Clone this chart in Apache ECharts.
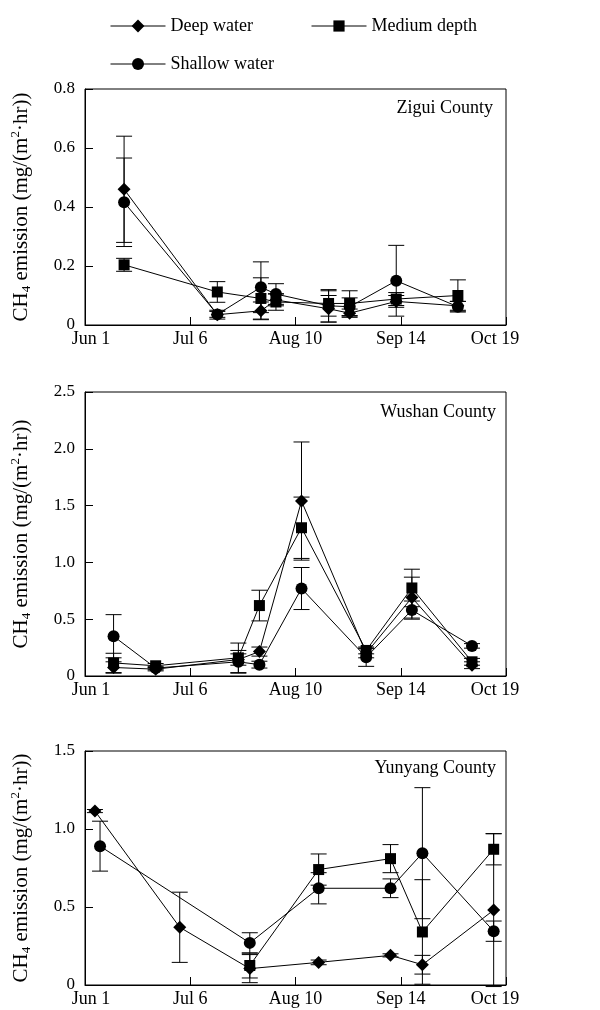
<!DOCTYPE html>
<html><head><meta charset="utf-8">
<script src="https://cdn.jsdelivr.net/npm/echarts@6/dist/echarts.min.js"></script>
<style>html,body{margin:0;padding:0;background:#fff}#c{width:600px;height:1010px}</style>
</head><body><div id="c"></div>
<script>
// ---- data ----
const tickDays = [0, 35, 70, 105, 140];           // days after Jun 1
const tickLabels = ['Jun 1', 'Jul 6', 'Aug 10', 'Sep 14', 'Oct 19'];
const seriesNames = ['Deep water', 'Medium depth', 'Shallow water'];
const panelNames = ['Zigui County', 'Wushan County', 'Yunyang County'];
const panelMax = [0.8, 2.5, 1.5];
const panelInterval = [0.2, 0.5, 0.5];

// Zigui County
const ziguiDays = [13, 44, 58.5, 63.5, 81, 88, 103.5, 124];
const ziguiDeep = [0.46, 0.035, 0.048, 0.085, 0.055, 0.04, 0.08, 0.065];
const ziguiDeepSd = [0.18, 0.015, 0.03, 0.02, 0.045, 0.014, 0.02, 0.015];
const ziguiMedium = [0.204, 0.112, 0.09, 0.078, 0.073, 0.073, 0.088, 0.1];
const ziguiMediumSd = [0.022, 0.035, 0.07, 0.028, 0.043, 0.043, 0.022, 0.053];
const ziguiShallow = [0.416, 0.036, 0.128, 0.105, 0.065, 0.062, 0.15, 0.062];
const ziguiShallowSd = [0.15, 0.01, 0.086, 0.035, 0.055, 0.03, 0.12, 0.018];

// Wushan County
const wushanDays = [9.5, 23.5, 51, 58, 72, 93.5, 108.7, 128.7];
const wushanDeep = [0.075, 0.06, 0.145, 0.215, 1.54, 0.2, 0.69, 0.095];
const wushanDeepSd = [0.05, 0.015, 0.05, 0.04, 0.52, 0.04, 0.18, 0.03];
const wushanMedium = [0.115, 0.09, 0.16, 0.62, 1.305, 0.225, 0.775, 0.125];
const wushanMediumSd = [0.085, 0.02, 0.13, 0.135, 0.27, 0.03, 0.165, 0.03];
const wushanShallow = [0.35, 0.07, 0.125, 0.1, 0.77, 0.165, 0.58, 0.265];
const wushanShallowSd = [0.19, 0.015, 0.1, 0.03, 0.185, 0.08, 0.08, 0.02];

// Yunyang County
const yunyangDeepDays = [3.3, 31.5, 54.8, 77.7, 101.6, 112.2, 135.9];
const yunyangDeep = [1.115, 0.37, 0.105, 0.145, 0.19, 0.13, 0.48];
const yunyangDeepSd = [0.01, 0.225, 0.09, 0.015, 0.01, 0.06, 0.49];
const yunyangMediumDays = [54.8, 77.7, 101.6, 112.2, 135.9];
const yunyangMedium = [0.125, 0.74, 0.81, 0.34, 0.87];
const yunyangMediumSd = [0.08, 0.1, 0.09, 0.335, 0.1];
const yunyangShallowDays = [5, 54.8, 77.7, 101.6, 112.2, 135.9];
const yunyangShallow = [0.89, 0.27, 0.62, 0.62, 0.845, 0.345];
const yunyangShallowSd = [0.16, 0.065, 0.1, 0.06, 0.42, 0.065];

// ---- build ----
const FONT = '"Liberation Serif", "Times New Roman", serif';
const panels = [
  [[ziguiDays, ziguiDeep, ziguiDeepSd], [ziguiDays, ziguiMedium, ziguiMediumSd], [ziguiDays, ziguiShallow, ziguiShallowSd]],
  [[wushanDays, wushanDeep, wushanDeepSd], [wushanDays, wushanMedium, wushanMediumSd], [wushanDays, wushanShallow, wushanShallowSd]],
  [[yunyangDeepDays, yunyangDeep, yunyangDeepSd], [yunyangMediumDays, yunyangMedium, yunyangMediumSd], [yunyangShallowDays, yunyangShallow, yunyangShallowSd]]
];
const symbols = ['diamond', 'rect', 'circle'];
const symbolSizes = [13, 11, 12];
const grids = [
  {left: 85, top: 89, width: 421, height: 236},
  {left: 85, top: 392, width: 421, height: 284},
  {left: 85, top: 751, width: 421, height: 234}
];

function renderErr(params, api) {
  const x = api.value(0), y = api.value(1), sd = api.value(2);
  const t = api.coord([x, y + sd]);
  const b = api.coord([x, y - sd]);
  const hw = 8;
  const style = {stroke: '#000', lineWidth: 1, fill: null};
  return {type: 'group', children: [
    {type: 'line', shape: {x1: t[0], y1: t[1], x2: b[0], y2: b[1]}, style},
    {type: 'line', shape: {x1: t[0] - hw, y1: t[1], x2: t[0] + hw, y2: t[1]}, style},
    {type: 'line', shape: {x1: b[0] - hw, y1: b[1], x2: b[0] + hw, y2: b[1]}, style}
  ]};
}

const xAxes = [], yAxes = [], series = [], titles = [];
const titleRight = [107, 104, 104];
const titleTop = [99, 403, 759];
grids.forEach((g, i) => {
  xAxes.push({
    type: 'value', gridIndex: i, min: 0, max: 140, interval: 35,
    axisLine: {show: true, lineStyle: {color: '#000', width: 1}},
    axisTick: {show: true, inside: true, length: 8, lineStyle: {color: '#000'}},
    splitLine: {show: false},
    axisLabel: {
      color: '#000', fontSize: 18, fontFamily: FONT, margin: 5,
      formatter: v => {
        const k = tickDays.indexOf(v);
        if (k < 0) return '';
        if (k === 0) return '{a|' + tickLabels[k] + '}';
        if (k === tickDays.length - 1) return '{b|' + tickLabels[k] + '}';
        return tickLabels[k];
      },
      rich: {
        a: {fontSize: 18, fontFamily: FONT, color: '#000', padding: [0, 0, 0, 12]},
        b: {fontSize: 18, fontFamily: FONT, color: '#000', padding: [0, 22, 0, 0]}
      }
    }
  });
  yAxes.push({
    type: 'value', gridIndex: i, min: 0, max: panelMax[i], interval: panelInterval[i],
    axisLine: {show: true, lineStyle: {color: '#000', width: 1}},
    axisTick: {show: true, inside: true, length: 8, lineStyle: {color: '#000'}},
    splitLine: {show: false},
    axisLabel: {color: '#000', fontSize: 17, fontFamily: FONT, margin: 10,
      formatter: v => v === 0 ? '0' : v.toFixed(1)},
    name: 'CH{sub|4} emission (mg/(m{sup|2}·hr))',
    nameLocation: 'middle', nameGap: 52, nameRotate: 90,
    nameTextStyle: {
      color: '#000', fontSize: 21, fontFamily: FONT, lineHeight: 24,
      rich: {
        sub: {fontSize: 13, lineHeight: 13, fontFamily: FONT, color: '#000', verticalAlign: 'bottom'},
        sup: {fontSize: 13, lineHeight: 13, fontFamily: FONT, color: '#000', verticalAlign: 'top'}
      }
    }
  });
  titles.push({
    text: panelNames[i], right: titleRight[i], top: titleTop[i], padding: 0,
    textStyle: {color: '#000', fontSize: 18, fontWeight: 'normal', fontFamily: FONT}
  });
  panels[i].forEach((s, j) => {
    const [days, vals, sds] = s;
    series.push({
      type: 'custom', name: seriesNames[j] + ' err', xAxisIndex: i, yAxisIndex: i,
      renderItem: renderErr, clip: false, z: 1, silent: true,
      encode: {x: 0, y: 1},
      data: days.map((d, k) => [d, vals[k], sds[k]])
    });
  });
  panels[i].forEach((s, j) => {
    const [days, vals] = s;
    series.push({
      type: 'line', name: seriesNames[j], xAxisIndex: i, yAxisIndex: i,
      symbol: symbols[j], symbolSize: symbolSizes[j], showSymbol: true, z: 3,
      itemStyle: {color: '#000', borderWidth: 0},
      lineStyle: {color: '#000', width: 1},
      data: days.map((d, k) => [d, vals[k]])
    });
  });
});

const legendCommon = {
  itemWidth: 55, itemGap: 10, selectedMode: false, padding: 0,
  textStyle: {color: '#000', fontSize: 18, fontFamily: FONT},
  lineStyle: {color: '#000', width: 1}
};
const legends = [
  Object.assign({}, legendCommon, {data: ['Deep water'], left: 110, top: 17, itemHeight: 16}),
  Object.assign({}, legendCommon, {data: ['Medium depth'], left: 311, top: 17, itemHeight: 14}),
  Object.assign({}, legendCommon, {data: ['Shallow water'], left: 110, top: 55, itemHeight: 15})
];

const chart = echarts.init(document.getElementById('c'), null, {renderer: 'canvas'});
chart.setOption({
  animation: false,
  backgroundColor: '#fff',
  title: titles,
  legend: legends,
  grid: grids.map(g => Object.assign({show: true, borderColor: '#000', borderWidth: 1,
    backgroundColor: 'transparent', containLabel: false, outerBoundsMode: 'none'}, g)),
  xAxis: xAxes,
  yAxis: yAxes,
  series: series
});
</script>
</body></html>
